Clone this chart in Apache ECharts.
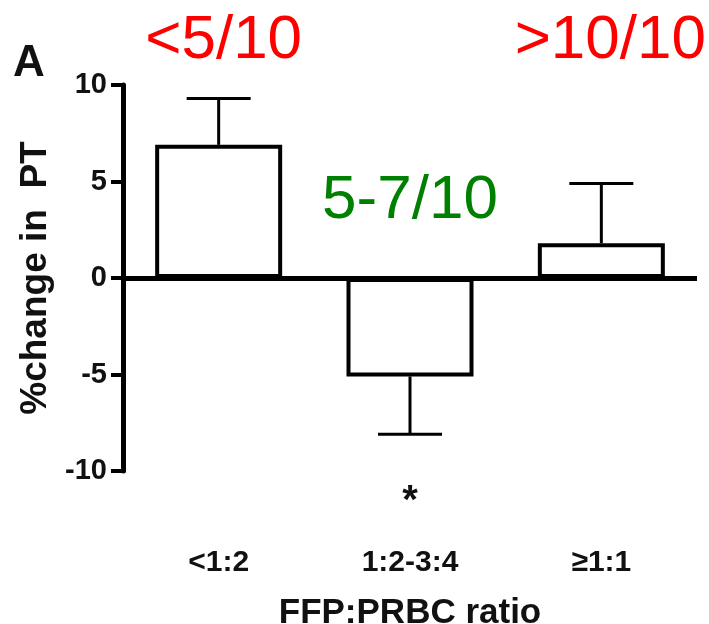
<!DOCTYPE html>
<html><head><meta charset="utf-8">
<script src="https://cdn.jsdelivr.net/npm/echarts@6/dist/echarts.min.js"></script>
<style>html,body{margin:0;padding:0;background:#fff}#c{width:709px;height:624px}</style>
</head><body><div id="c"></div>
<script>
// ---- data ----
const categories = ['<1:2', '1:2-3:4', '\u22651:1'];
const meanChange = [6.9, -5.1, 1.8];
const errorEnd = [9.3, -8.1, 4.9];
const yTickValues = [-10, -5, 0, 5, 10];
const ratioLabels = ['<5/10', '5-7/10', '>10/10'];
const ratioColors = ['#ff0000', '#008000', '#ff0000'];
const significance = ['', '*', ''];
const panelLetter = 'A';
const xTitle = 'FFP:PRBC ratio';
const yTitle = '%change in  PT';

const FONT = '"Liberation Sans", Arial, Helvetica, sans-serif';
const chart = echarts.init(document.getElementById('c'), null, {renderer: 'canvas'});

const option = {
  animation: false,
  backgroundColor: '#fff',
  grid: {left: 123, right: 12, top: 85, bottom: 153, containLabel: false, outerBoundsMode: 'none'},
  xAxis: {
    type: 'category', data: categories,
    axisLine: {show: false}, axisTick: {show: false},
    axisLabel: {margin: 77, color: '#111', fontFamily: FONT, fontWeight: 'bold', fontSize: 30},
    name: xTitle, nameLocation: 'middle', nameGap: 125,
    nameTextStyle: {color: '#111', fontFamily: FONT, fontWeight: 'bold', fontSize: 35}
  },
  yAxis: {
    type: 'value', min: yTickValues[0], max: yTickValues[yTickValues.length - 1], interval: 5,
    splitLine: {show: false},
    axisLine: {show: true, lineStyle: {color: '#000', width: 5}},
    axisTick: {show: true, length: 12, lineStyle: {color: '#000', width: 4}},
    axisLabel: {margin: 16, color: '#111', fontFamily: FONT, fontWeight: 'bold', fontSize: 29},
    name: yTitle, nameLocation: 'middle', nameGap: 69,
    nameTextStyle: {color: '#111', fontFamily: FONT, fontWeight: 'bold', fontSize: 37}
  },
  series: [
    {
      type: 'custom', z: 2,
      data: categories.map((c, i) => [i, meanChange[i], errorEnd[i]]),
      renderItem: function (params, api) {
        const x = api.value(0);
        const p0 = api.coord([x, api.value(1)]);
        const p1 = api.coord([x, api.value(2)]);
        const half = 32;
        return {type: 'group', children: [
          {type: 'line', shape: {x1: p0[0], y1: p0[1], x2: p1[0], y2: p1[1]}, style: {stroke: '#000', lineWidth: 3}},
          {type: 'line', shape: {x1: p1[0] - half, y1: p1[1], x2: p1[0] + half, y2: p1[1]}, style: {stroke: '#000', lineWidth: 3}}
        ]};
      }
    },
    {
      type: 'bar', z: 3, data: meanChange, barWidth: 127,
      itemStyle: {color: '#fff', borderColor: '#000', borderWidth: 4},
      markLine: {
        silent: true, symbol: 'none', label: {show: false},
        lineStyle: {color: '#000', width: 5, type: 'solid'},
        data: [{yAxis: 0}]
      }
    }
  ]
};
chart.setOption(option);

// annotations
const graphics = [];
graphics.push({type: 'text', left: 13, top: 42, style: {text: panelLetter, fontFamily: FONT, fontWeight: 'bold', fontSize: 44, fill: '#111'}});
const redShift = [5, 0, 9];
categories.forEach((c, i) => {
  const cx = chart.convertToPixel({gridIndex: 0}, [i, 0])[0];
  let y;
  if (ratioColors[i] === '#008000') {
    y = chart.convertToPixel({gridIndex: 0}, [i, 4.0])[1];
  } else {
    y = 41;
  }
  graphics.push({type: 'text', x: cx + redShift[i], y: y,
    style: {text: ratioLabels[i], fontFamily: FONT, fontSize: 62, fill: ratioColors[i], textAlign: 'center', textVerticalAlign: 'middle'}});
  if (significance[i]) {
    const sy = chart.convertToPixel({gridIndex: 0}, [i, -11.6])[1];
    graphics.push({type: 'text', x: cx, y: sy,
      style: {text: significance[i], fontFamily: FONT, fontWeight: 'bold', fontSize: 40, fill: '#111', textAlign: 'center', textVerticalAlign: 'middle'}});
  }
});
chart.setOption({graphic: graphics});
</script>
</body></html>
